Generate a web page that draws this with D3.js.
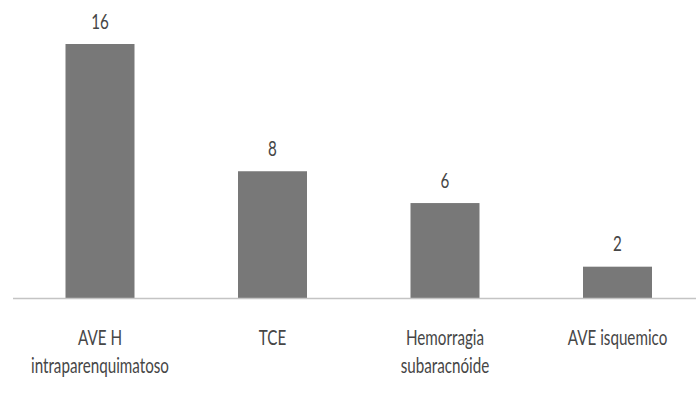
<!DOCTYPE html>
<html>
<head>
<meta charset="utf-8">
<script src="https://cdn.jsdelivr.net/npm/d3@7"></script>
<style>
  html, body { margin: 0; padding: 0; background: #ffffff; }
  svg { display: block; }
  text { font-family: Lato, "Open Sans", sans-serif; fill: #464646; }
</style>
</head>
<body>
<svg id="chart" width="696" height="396"></svg>
<script>
// Casos por diagnóstico
const categories = [
  ["AVE H", "intraparenquimatoso"],
  ["TCE"],
  ["Hemorragia", "subaracnóide"],
  ["AVE isquemico"]
];
const values = [16, 8, 6, 2];

const W = 696, H = 396;
const baseY = 298.5, topY = 44;
const stretch = 1.42;   // text is drawn tall and narrow
const fontSize = "15.2px";

const svg = d3.select("#chart");

const keys = categories.map((d, i) => i);
const x = d3.scaleBand()
  .domain(keys)
  .range([13.75, 703.75])
  .paddingInner(0.6)
  .paddingOuter(0.3);

const y = d3.scaleLinear()
  .domain([0, 16])
  .range([baseY, topY]);

// bars
svg.append("g")
  .selectAll("rect")
  .data(values)
  .join("rect")
  .attr("x", (d, i) => x(i))
  .attr("width", x.bandwidth())
  .attr("y", d => y(d))
  .attr("height", d => y(0) - y(d))
  .attr("fill", "#787878");

// category axis line
svg.append("line")
  .attr("x1", 13).attr("x2", W)
  .attr("y1", y(0)).attr("y2", y(0))
  .attr("stroke", "#c4c4c4")
  .attr("stroke-width", 1.5);

// value labels above the bars
svg.append("g")
  .selectAll("g")
  .data(values)
  .join("g")
  .attr("transform", (d, i) => `translate(${x(i) + x.bandwidth() / 2},${y(d) - 23}) scale(1,${stretch})`)
  .append("text")
  .attr("text-anchor", "middle")
  .attr("dy", "0.36em")
  .style("font-size", fontSize)
  .text(d => d);

// category labels (one or two lines)
const lineGap = 28;
const firstLineY = 337;
const catG = svg.append("g")
  .selectAll("g")
  .data(categories)
  .join("g");
catG.each(function(lines, i) {
  d3.select(this)
    .selectAll("g")
    .data(lines)
    .join("g")
    .attr("transform", (t, j) => `translate(${x(i) + x.bandwidth() / 2},${firstLineY + j * lineGap}) scale(1,${stretch})`)
    .append("text")
    .attr("text-anchor", "middle")
    .attr("dy", "0.36em")
    .style("font-size", fontSize)
    .text(t => t);
});
</script>
</body>
</html>
